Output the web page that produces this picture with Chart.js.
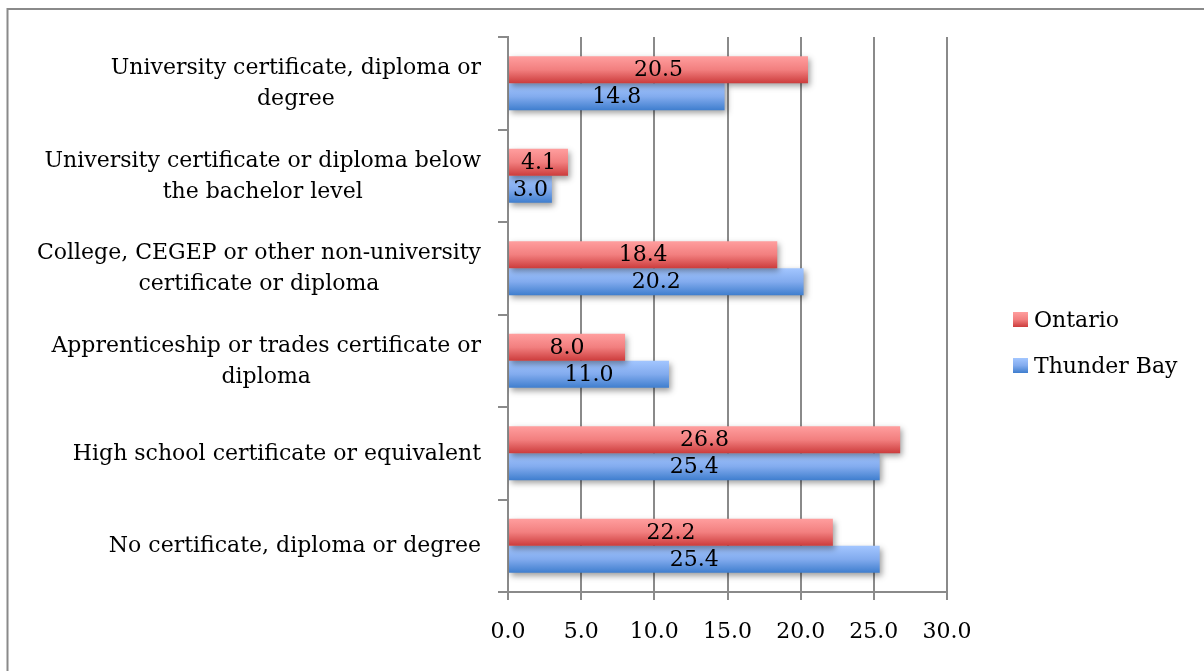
<!DOCTYPE html>
<html>
<head>
<meta charset="utf-8">
<script src="https://cdn.jsdelivr.net/npm/chart.js@4.4.1/dist/chart.umd.min.js"></script>
<style>
  html, body { margin: 0; padding: 0; background: #ffffff; }
  #wrap { width: 1204px; height: 671px; position: relative; overflow: hidden; }
</style>
</head>
<body>
<div id="wrap"><canvas id="c" width="1204" height="671"></canvas></div>
<script>
// ---- Data ----
const categories = [
  ['University certificate, diploma or', 'degree'],
  ['University certificate or diploma below', 'the bachelor level'],
  ['College, CEGEP or other non-university', 'certificate or diploma'],
  ['Apprenticeship or trades certificate or', 'diploma'],
  ['High school certificate or equivalent'],
  ['No certificate, diploma or degree']
];
const seriesNames = ['Ontario', 'Thunder Bay'];
const ontarioValues = [20.5, 4.1, 18.4, 8.0, 26.8, 22.2];
const thunderBayValues = [14.8, 3.0, 20.2, 11.0, 25.4, 25.4];
const axisMin = 0;
const axisMax = 30;
const axisStep = 5;

// ---- Styles ----
const FONT = "'DejaVu Serif', serif";
const GRID = '#8a8a8a';
const gradStops = [
  ['#FF9E9E', '#F27F7F', '#CC3C3C'],
  ['#A3C6FF', '#82ABEE', '#3F7ECE']
];

function makeGrad(ctx, top, bottom, stops) {
  const g = ctx.createLinearGradient(0, top, 0, bottom);
  g.addColorStop(0, stops[0]);
  g.addColorStop(0.5, stops[1]);
  g.addColorStop(1, stops[2]);
  return g;
}

const barStylePlugin = {
  id: 'barStyle',
  afterDatasetsUpdate(chart) {
    const ctx = chart.ctx;
    chart.data.datasets.forEach((ds, di) => {
      const meta = chart.getDatasetMeta(di);
      meta.data.forEach(el => {
        const top = el.y - el.height / 2;
        const bottom = el.y + el.height / 2;
        const o = Object.assign({}, el.options);
        delete o.$shared;
        o.backgroundColor = makeGrad(ctx, top, bottom, gradStops[di]);
        el.options = o;
      });
    });
  },
  beforeDatasetDraw(chart) {
    const ctx = chart.ctx;
    ctx.save();
    ctx.shadowColor = 'rgba(0,0,0,0.38)';
    ctx.shadowBlur = 6;
    ctx.shadowOffsetX = 2;
    ctx.shadowOffsetY = 3;
  },
  afterDatasetDraw(chart) {
    chart.ctx.restore();
  },
  afterDatasetsDraw(chart) {
    const ctx = chart.ctx;
    ctx.save();
    ctx.font = '22px ' + FONT;
    ctx.fillStyle = '#000';
    ctx.textAlign = 'center';
    ctx.textBaseline = 'middle';
    chart.data.datasets.forEach((ds, di) => {
      const meta = chart.getDatasetMeta(di);
      meta.data.forEach((el, i) => {
        const v = ds.data[i];
        ctx.fillText(v.toFixed(1), (el.x + el.base) / 2, el.y + 1);
      });
    });
    ctx.restore();
  }
};

const labelsPlugin = {
  id: 'catLabels',
  afterDraw(chart) {
    const ctx = chart.ctx;
    const ys = chart.scales.y;
    const area = chart.chartArea;
    ctx.save();
    ctx.font = '22px ' + FONT;
    ctx.fillStyle = '#000';
    ctx.textAlign = 'center';
    ctx.textBaseline = 'middle';
    const right = area.left - 27;
    const lh = 31;
    chart.data.labels.forEach((lines, i) => {
      const arr = Array.isArray(lines) ? lines : [lines];
      const w = Math.max(...arr.map(t => ctx.measureText(t).width));
      const cx = right - w / 2;
      const cy = ys.getPixelForValue(i);
      arr.forEach((t, j) => {
        ctx.fillText(t, cx, cy + (j - (arr.length - 1) / 2) * lh + 1);
      });
    });

    // legend
    const lx = area.right + 66;
    const ly0 = (area.top + area.bottom) / 2 + 5.5;
    const gap = 46;
    ctx.textAlign = 'left';
    chart.data.datasets.forEach((ds, di) => {
      const cy = ly0 + di * gap;
      ctx.fillStyle = makeGrad(ctx, cy - 8, cy + 7, gradStops[di]);
      ctx.fillRect(lx, cy - 8, 15, 15);
      ctx.fillStyle = '#000';
      ctx.fillText(ds.label, lx + 21, cy + 1);
    });

    // outer frame
    ctx.strokeStyle = GRID;
    ctx.lineWidth = 2;
    ctx.strokeRect(7.5, 9, 1400, 900);
    ctx.restore();
  }
};

new Chart(document.getElementById('c'), {
  type: 'bar',
  data: {
    labels: categories,
    datasets: [
      { label: seriesNames[0], data: ontarioValues, backgroundColor: '#E86A6A', borderWidth: 0 },
      { label: seriesNames[1], data: thunderBayValues, backgroundColor: '#6A9BE5', borderWidth: 0 }
    ]
  },
  options: {
    indexAxis: 'y',
    responsive: false,
    devicePixelRatio: 1,
    animation: false,
    events: [],
    layout: { padding: { top: 37, right: 257, left: 0, bottom: 0 } },
    datasets: { bar: { categoryPercentage: 0.584, barPercentage: 1.0 } },
    plugins: {
      legend: { display: false },
      tooltip: { enabled: false },
      title: { display: false }
    },
    scales: {
      x: {
        type: 'linear',
        min: axisMin,
        max: axisMax,
        ticks: {
          stepSize: axisStep,
          color: '#000',
          font: { family: FONT, size: 22 },
          padding: 19,
          callback: v => Number(v).toFixed(1)
        },
        grid: { color: GRID, lineWidth: 2, tickLength: 8, drawTicks: true },
        border: { display: true, color: GRID, width: 2 },
        afterFit: s => { s.height = 79; }
      },
      y: {
        type: 'category',
        ticks: { display: false },
        grid: { display: true, offset: true, drawOnChartArea: false, color: GRID, lineWidth: 2, tickLength: 10 },
        border: { display: true, color: GRID, width: 2 },
        afterFit: s => { s.width = 508; }
      }
    }
  },
  plugins: [barStylePlugin, labelsPlugin]
});
</script>
</body>
</html>
